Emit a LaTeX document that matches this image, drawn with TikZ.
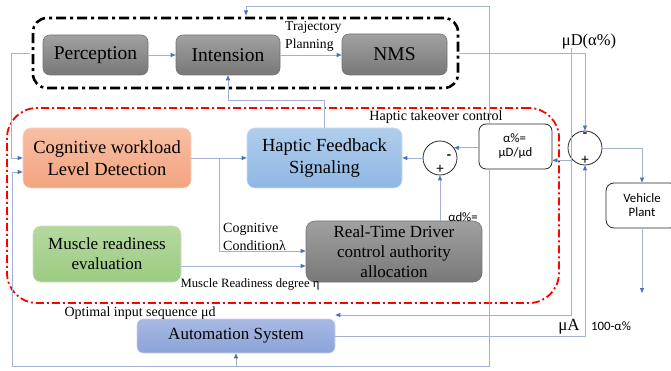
\documentclass[tikz,border=0pt]{standalone}
\usepackage{fontspec}
\setmainfont{Liberation Serif}
\newfontfamily\calib{Carlito}
\usetikzlibrary{arrows.meta,calc}
\definecolor{lnc}{RGB}{165,178,207}
\definecolor{arc}{RGB}{68,114,196}
\definecolor{orgT}{RGB}{248,190,163}
\definecolor{orgB}{RGB}{243,164,128}
\definecolor{bluT}{RGB}{176,205,236}
\definecolor{bluB}{RGB}{143,183,228}
\definecolor{grnT}{RGB}{182,216,160}
\definecolor{grnB}{RGB}{156,203,130}
\definecolor{autT}{RGB}{168,185,226}
\definecolor{autB}{RGB}{140,163,217}
\newcommand\myfA{\fontsize{19.5}{22}\selectfont}
\newcommand\myfB{\fontsize{18.5}{22}\selectfont}
\newcommand\myfC{\fontsize{17}{20}\selectfont}
\newcommand\myfD{\fontsize{13.8}{18}\selectfont}
\newcommand\myfE{\fontsize{12.8}{14}\selectfont}
\begin{document}
\begin{tikzpicture}[x=1pt,y=-1pt,
  conn/.style={draw=lnc, line width=0.8pt, -{Triangle[length=5pt,width=4pt,color=arc]}},
  graybox/.style={rounded corners=7pt, draw=black!55, line width=0.6pt, top color=black!37, bottom color=black!53, inner sep=0pt, align=center},
  colbox/.style={rounded corners=8pt, line width=0.6pt, inner sep=0pt, align=center},
  whitebox/.style={rounded corners=7pt, draw=black!85, line width=0.8pt, fill=white, inner sep=0pt, align=center, font=\calib\myfE},
  sumc/.style={circle, draw=black!85, line width=0.8pt, minimum size=34pt, inner sep=0pt},
  lbl/.style={inner sep=0pt, align=left}]
\clip (0,0) rectangle (671,371);
\useasboundingbox (0,0) rectangle (671,371);

% group frames
\node[draw=black, line width=2.6pt, dash pattern=on 10pt off 4pt on 3pt off 4pt, rounded corners=14pt, minimum width=425pt, minimum height=70pt, inner sep=0pt] (ctrl) at (245.5,53) {};
\node[draw=red, line width=1.8pt, dash pattern=on 8pt off 3pt on 2pt off 3pt, rounded corners=30pt, minimum width=552pt, minimum height=195pt, inner sep=0pt] (hto) at (283,205.5) {};

% main blocks
\node[graybox, minimum width=105pt, minimum height=40pt, font=\myfA] (perc) at (95.5,55) {Perception};
\node[graybox, minimum width=104pt, minimum height=40pt, font=\myfA] (intn) at (228,55) {Intension};
\node[graybox, minimum width=105pt, minimum height=41pt, font=\myfA] (nms) at (394.5,54.5) {NMS};

\node[colbox, draw=orgT!70!white, top color=orgT, bottom color=orgB, minimum width=168pt, minimum height=60pt, font=\myfB] (cog) at (107,158) {Cognitive workload\\Level Detection};
\node[colbox, draw=bluT!70!white, top color=bluT, bottom color=bluB, minimum width=155pt, minimum height=60pt, font=\myfB] (hapf) at (324.5,158) {Haptic Feedback\\Signaling};
\node[colbox, draw=grnT!70!white, top color=grnT, bottom color=grnB, minimum width=148pt, minimum height=56pt, font=\myfC] (musc) at (107,254) {Muscle readiness\\evaluation};
\node[graybox, rounded corners=9pt, minimum width=176pt, minimum height=61pt, font=\myfC] (rt) at (394,251.5) {Real-Time Driver\\control authority\\allocation};
\node[colbox, rounded corners=6pt, draw=autT!60!white, top color=autT, bottom color=autB, minimum width=198pt, minimum height=34pt, font=\myfC] (auto) at (236,336) {Automation System};

\node[whitebox, minimum width=73pt, minimum height=45pt] (al) at (515.5,146.5) {$\!$α\%=\\μD/μd};
\node[whitebox, rounded corners=8pt, minimum width=72pt, minimum height=45pt] (veh) at (642,205.5) {Vehicle\\Plant};

\node[sumc] (c1) at (440,158) {};
\node[sumc] (c2) at (585,148) {};
\node[inner sep=0pt, font=\calib\bfseries\fontsize{14}{14}\selectfont] (m1) at (449,157) {-};
\node[inner sep=0pt, font=\calib\fontsize{15}{15}\selectfont] (p1) at (440,169) {+};
\node[inner sep=0pt, font=\calib\bfseries\fontsize{14}{14}\selectfont] (m2) at (585,135) {-};
\node[inner sep=0pt, font=\calib\fontsize{15}{15}\selectfont] (p2) at (585,160) {+};

% labels
\node[lbl, font=\fontsize{13.6}{18}\selectfont, anchor=west] (tp) at (285,36) {Trajectory\\Planning};
\node[lbl, font=\fontsize{14.1}{16}\selectfont] (htc) at (436,117) {Haptic takeover control};
\node[lbl, font=\fontsize{16.5}{18}\selectfont] (mud) at (589,42) {μD(α\%)};
\node[lbl, font=\calib\myfE] (adl) at (463,217) {αd\%=};
\node[lbl, font=\fontsize{14}{18}\selectfont, anchor=west] (ccl) at (223,237) {Cognitive\\Conditionλ};
\node[lbl, font=\fontsize{12.7}{14}\selectfont] (mrl) at (250,284) {Muscle Readiness degree η};
\node[lbl, font=\fontsize{14}{16}\selectfont] (oil) at (140,313) {Optimal input sequence μd};
\node[lbl, font=\fontsize{17}{18}\selectfont] (mua) at (569,327) {μA};
\node[lbl, font=\calib\myfE] (hal) at (611,326) {100-α\%};

% connectors
\coordinate (topR) at (489,6);
\coordinate (topL) at (246,6);
\draw[conn] (perc.east) -- (perc.east -| intn.west);
\draw[conn] (intn.east) -- (intn.east -| nms.west);
\draw[conn] (ctrl.east) -- (ctrl.east -| c2.north) -- (c2.north);
\draw[conn] (topR |- al.north) -- (topR) -- (topL) -- ($(topL |- ctrl.north)+(0,-1.3)$);
\draw[conn] (topR |- al.south) -- (489,366) -- (12.5,366) -- (12.5,172) -- (cog.west |- 0,172);
\draw[conn] (auto.south |- 0,366) -- (auto.south);
\draw[conn] ($(ctrl.west)+(-1.3,0)$) -- (11,53) -- (11,158) -- (cog.west);
\draw[conn] (cog.east) -- (hapf.west);
\draw[conn] (219,158) -- (219,251) -- (rt.west |- 0,251);
\draw[conn] (musc.east |- 0,266) -- (rt.west |- 0,266);
\draw[conn] (hapf.north) -- (hapf.north |- 0,100) -- (intn.south |- 0,100) -- (intn.south);
\draw[conn] (c1.south |- rt.north) -- (c1.south);
\draw[conn] (c1.west) -- (c1.west -| hapf.east);
\draw[conn] (al.west |- c1.36) -- (c1.36);
\draw[conn] (c2.225) -- (c2.225 -| al.east);
\draw[conn] (c2.east) -- (642,148) -- (veh.north);
\draw[conn] (veh.south) -- (642,293);
\draw[conn] (auto.east) -- (auto.east -| c2.south) -- (c2.south);
\draw[conn] (571,48) -- (571,315) -- (auto.east |- 0,315);
\end{tikzpicture}
\end{document}
